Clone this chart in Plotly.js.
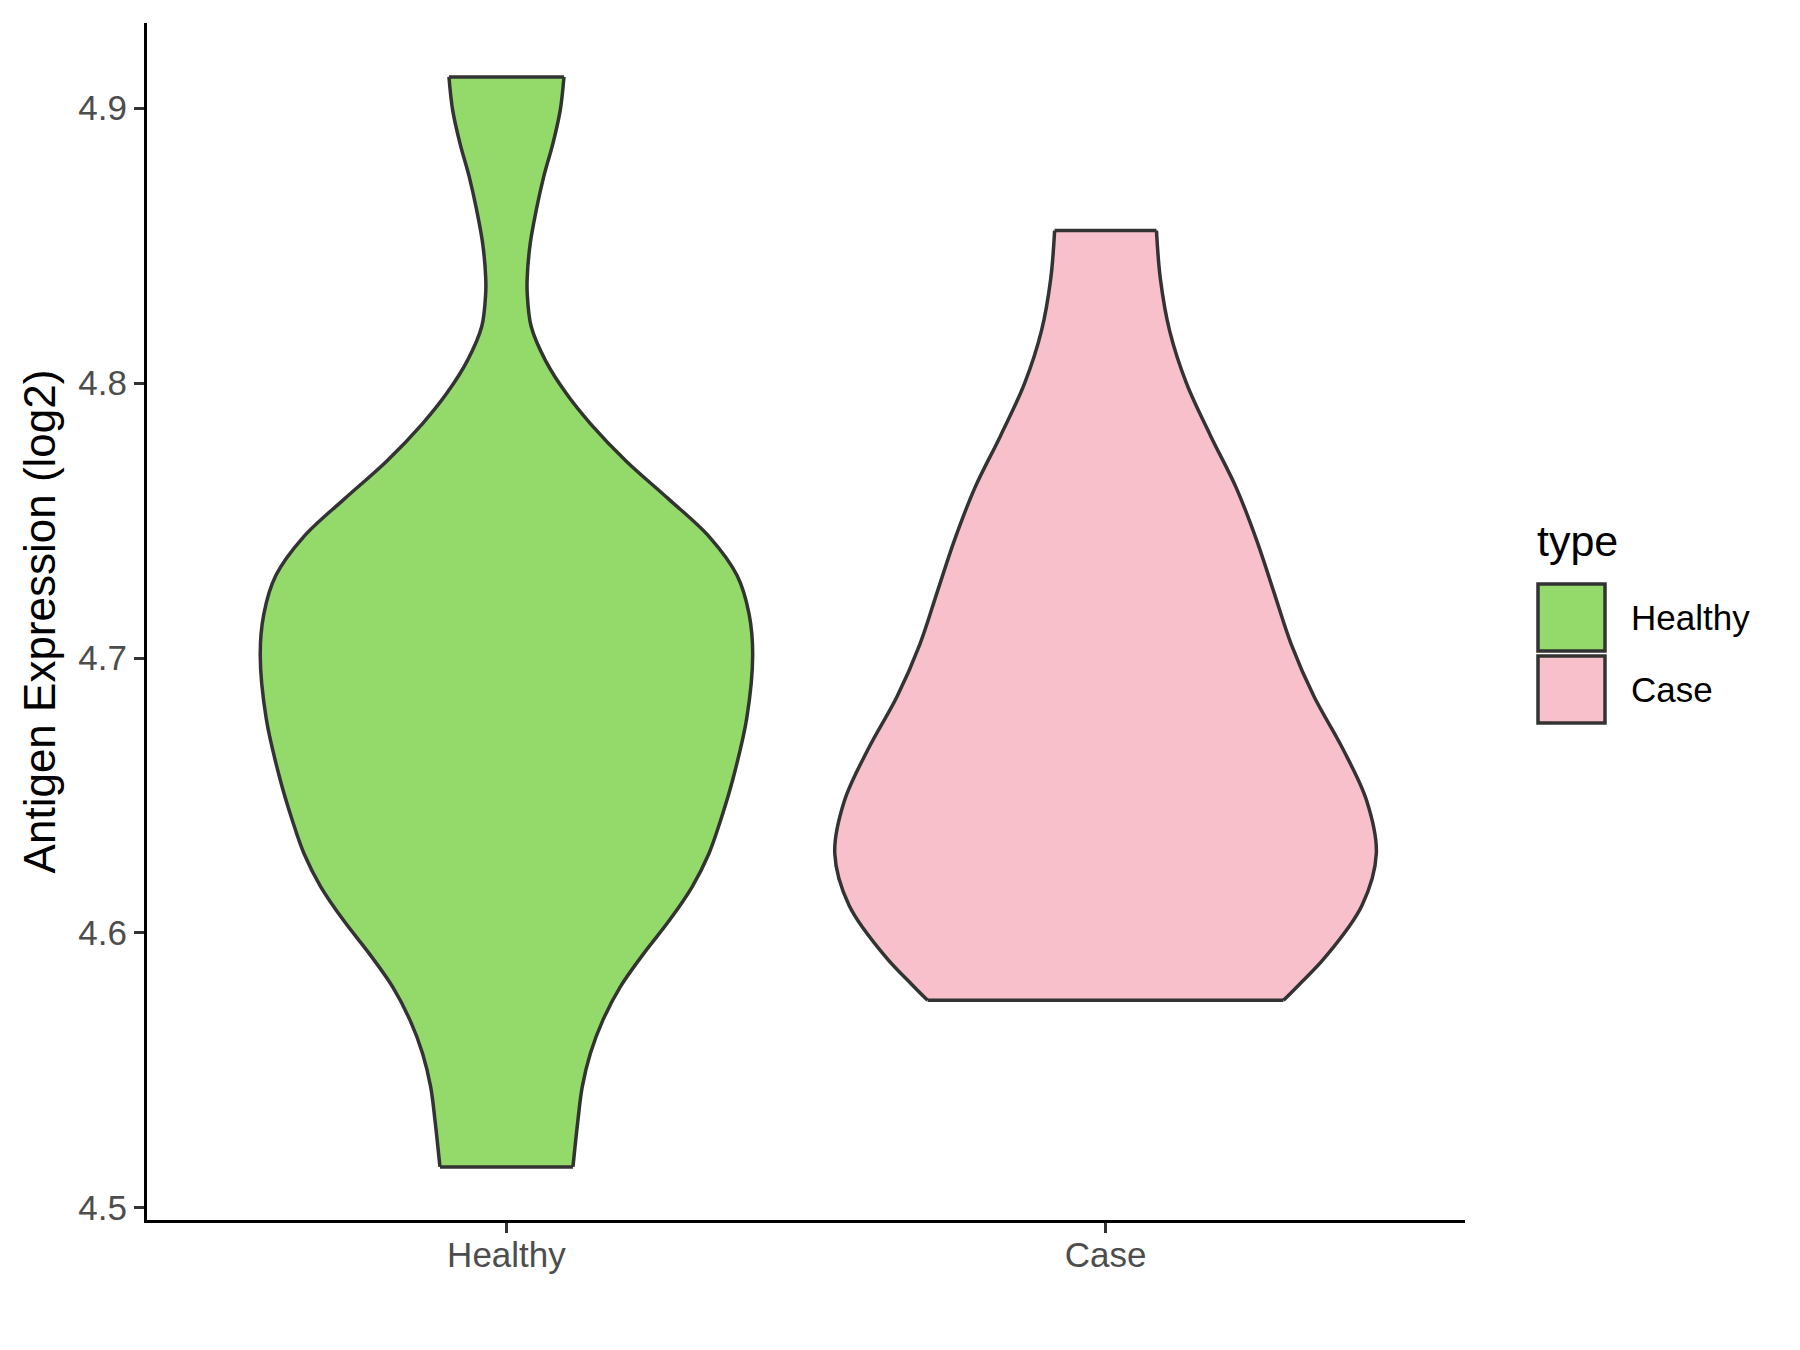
<!DOCTYPE html>
<html>
<head>
<meta charset="utf-8">
<script src="https://cdn.plot.ly/plotly-3.0.1.min.js"></script>
<style>html,body{margin:0;padding:0;background:#fff;}#chart{width:1800px;height:1350px;}</style>
</head>
<body>
<div id="chart"></div>
<script>
// ---- data ----
const categories = ['Healthy', 'Case'];
const fillColors = ['#93DA6A', '#F7C0CB'];

// violin outline: expression levels (log2) and half-width of the density (in category units)
const healthyY = [4.9114, 4.8993, 4.8872, 4.875, 4.8629, 4.8508, 4.8386, 4.8326, 4.8205, 4.8083, 4.7962, 4.7853, 4.7716, 4.758, 4.744, 4.730, 4.716, 4.701, 4.678, 4.656, 4.641, 4.6289, 4.6168, 4.6046, 4.5925, 4.5804, 4.5683, 4.5562, 4.5440, 4.5319, 4.5149];
const healthyW = [0.0960, 0.0898, 0.0776, 0.0621, 0.0497, 0.0397, 0.0347, 0.0347, 0.0414, 0.0650, 0.100, 0.140, 0.200, 0.270, 0.339, 0.385, 0.405, 0.411, 0.401, 0.378, 0.3575, 0.338, 0.310, 0.272, 0.229, 0.190, 0.161, 0.140, 0.1265, 0.1193, 0.111];

const caseY = [4.8555, 4.838, 4.819, 4.800, 4.781, 4.762, 4.743, 4.724, 4.705, 4.686, 4.667, 4.648, 4.629, 4.610, 4.591, 4.5812, 4.5755];
const caseW = [0.085, 0.0915, 0.107, 0.135, 0.175, 0.218, 0.252, 0.281, 0.310, 0.348, 0.396, 0.436, 0.452, 0.428, 0.366, 0.323, 0.297];

const yTickVals = [4.5, 4.6, 4.7, 4.8, 4.9];
const yTickText = ['4.5', '4.6', '4.7', '4.8', '4.9'];

const groups = [
  {name: categories[0], y: healthyY, w: healthyW, color: fillColors[0]},
  {name: categories[1], y: caseY, w: caseW, color: fillColors[1]}
];

const outline = {color: '#333333', width: 3.5, shape: 'spline', smoothing: 1};
const traces = [];
const edgeTraces = [];
groups.forEach((g, i) => {
  const pos = i + 1;
  traces.push({
    type: 'scatter', mode: 'lines', name: g.name, showlegend: false, hoverinfo: 'skip',
    x: g.y.map((v, k) => pos - g.w[k]), y: g.y, line: outline, fill: 'none'
  });
  traces.push({
    type: 'scatter', mode: 'lines', name: g.name, showlegend: false, hoverinfo: 'skip',
    x: g.y.map((v, k) => pos + g.w[k]), y: g.y, line: outline,
    fill: 'tonextx', fillcolor: g.color
  });
  const n = g.y.length - 1;
  edgeTraces.push({
    type: 'scatter', mode: 'lines', showlegend: false, hoverinfo: 'skip',
    x: [pos - g.w[0], pos + g.w[0], null, pos - g.w[n], pos + g.w[n]],
    y: [g.y[0], g.y[0], null, g.y[n], g.y[n]],
    line: {color: '#333333', width: 3.5}
  });
});

const font = 'Liberation Sans, Arial, Helvetica, sans-serif';
const L = 147, R = 1465, T = 23, B = 1220;
const px = x => (x - L) / (R - L);
const py = y => (B - y) / (B - T);

const legendShapes = [];
const legendAnn = [{
  xref: 'paper', yref: 'paper', x: px(1535), y: py(541), xanchor: 'left', yanchor: 'middle',
  text: 'type', showarrow: false, font: {family: font, size: 43, color: '#000000'}
}];
groups.forEach((g, i) => {
  const top = 584 + i * 72, bot = top + 67;
  legendShapes.push({
    type: 'rect', xref: 'paper', yref: 'paper',
    x0: px(1538), x1: px(1605), y0: py(bot), y1: py(top),
    fillcolor: g.color, line: {color: '#333333', width: 3.5}
  });
  legendAnn.push({
    xref: 'paper', yref: 'paper', x: px(1629), y: py((top + bot) / 2), xanchor: 'left', yanchor: 'middle',
    text: g.name, showarrow: false, font: {family: font, size: 35, color: '#000000'}
  });
});

const layout = {
  width: 1800, height: 1350,
  margin: {l: L, r: 1800 - R, t: T, b: 1350 - B, pad: 0},
  paper_bgcolor: '#ffffff', plot_bgcolor: '#ffffff',
  showlegend: false,
  font: {family: font},
  xaxis: {
    range: [0.4, 2.6], tickmode: 'array', tickvals: [1, 2], ticktext: categories,
    showgrid: false, zeroline: false, showline: true, linecolor: '#000000', linewidth: 3,
    ticks: 'outside', ticklen: 10, tickwidth: 3, tickcolor: '#333333', ticklabelstandoff: -8,
    tickfont: {family: font, size: 35, color: '#4D4D4D'}, fixedrange: true
  },
  yaxis: {
    range: [4.4956, 4.931], tickmode: 'array', tickvals: yTickVals, ticktext: yTickText,
    showgrid: false, zeroline: false, showline: true, linecolor: '#000000', linewidth: 3,
    ticks: 'outside', ticklen: 10, tickwidth: 3, tickcolor: '#333333',
    tickfont: {family: font, size: 35, color: '#4D4D4D'},
    title: {text: 'Antigen Expression (log2)', font: {family: font, size: 44, color: '#000000'}, standoff: 9},
    automargin: false, fixedrange: true
  },
  shapes: legendShapes,
  annotations: legendAnn
};

Plotly.newPlot('chart', traces.concat(edgeTraces), layout, {displayModeBar: false, staticPlot: true});
</script>
</body>
</html>
